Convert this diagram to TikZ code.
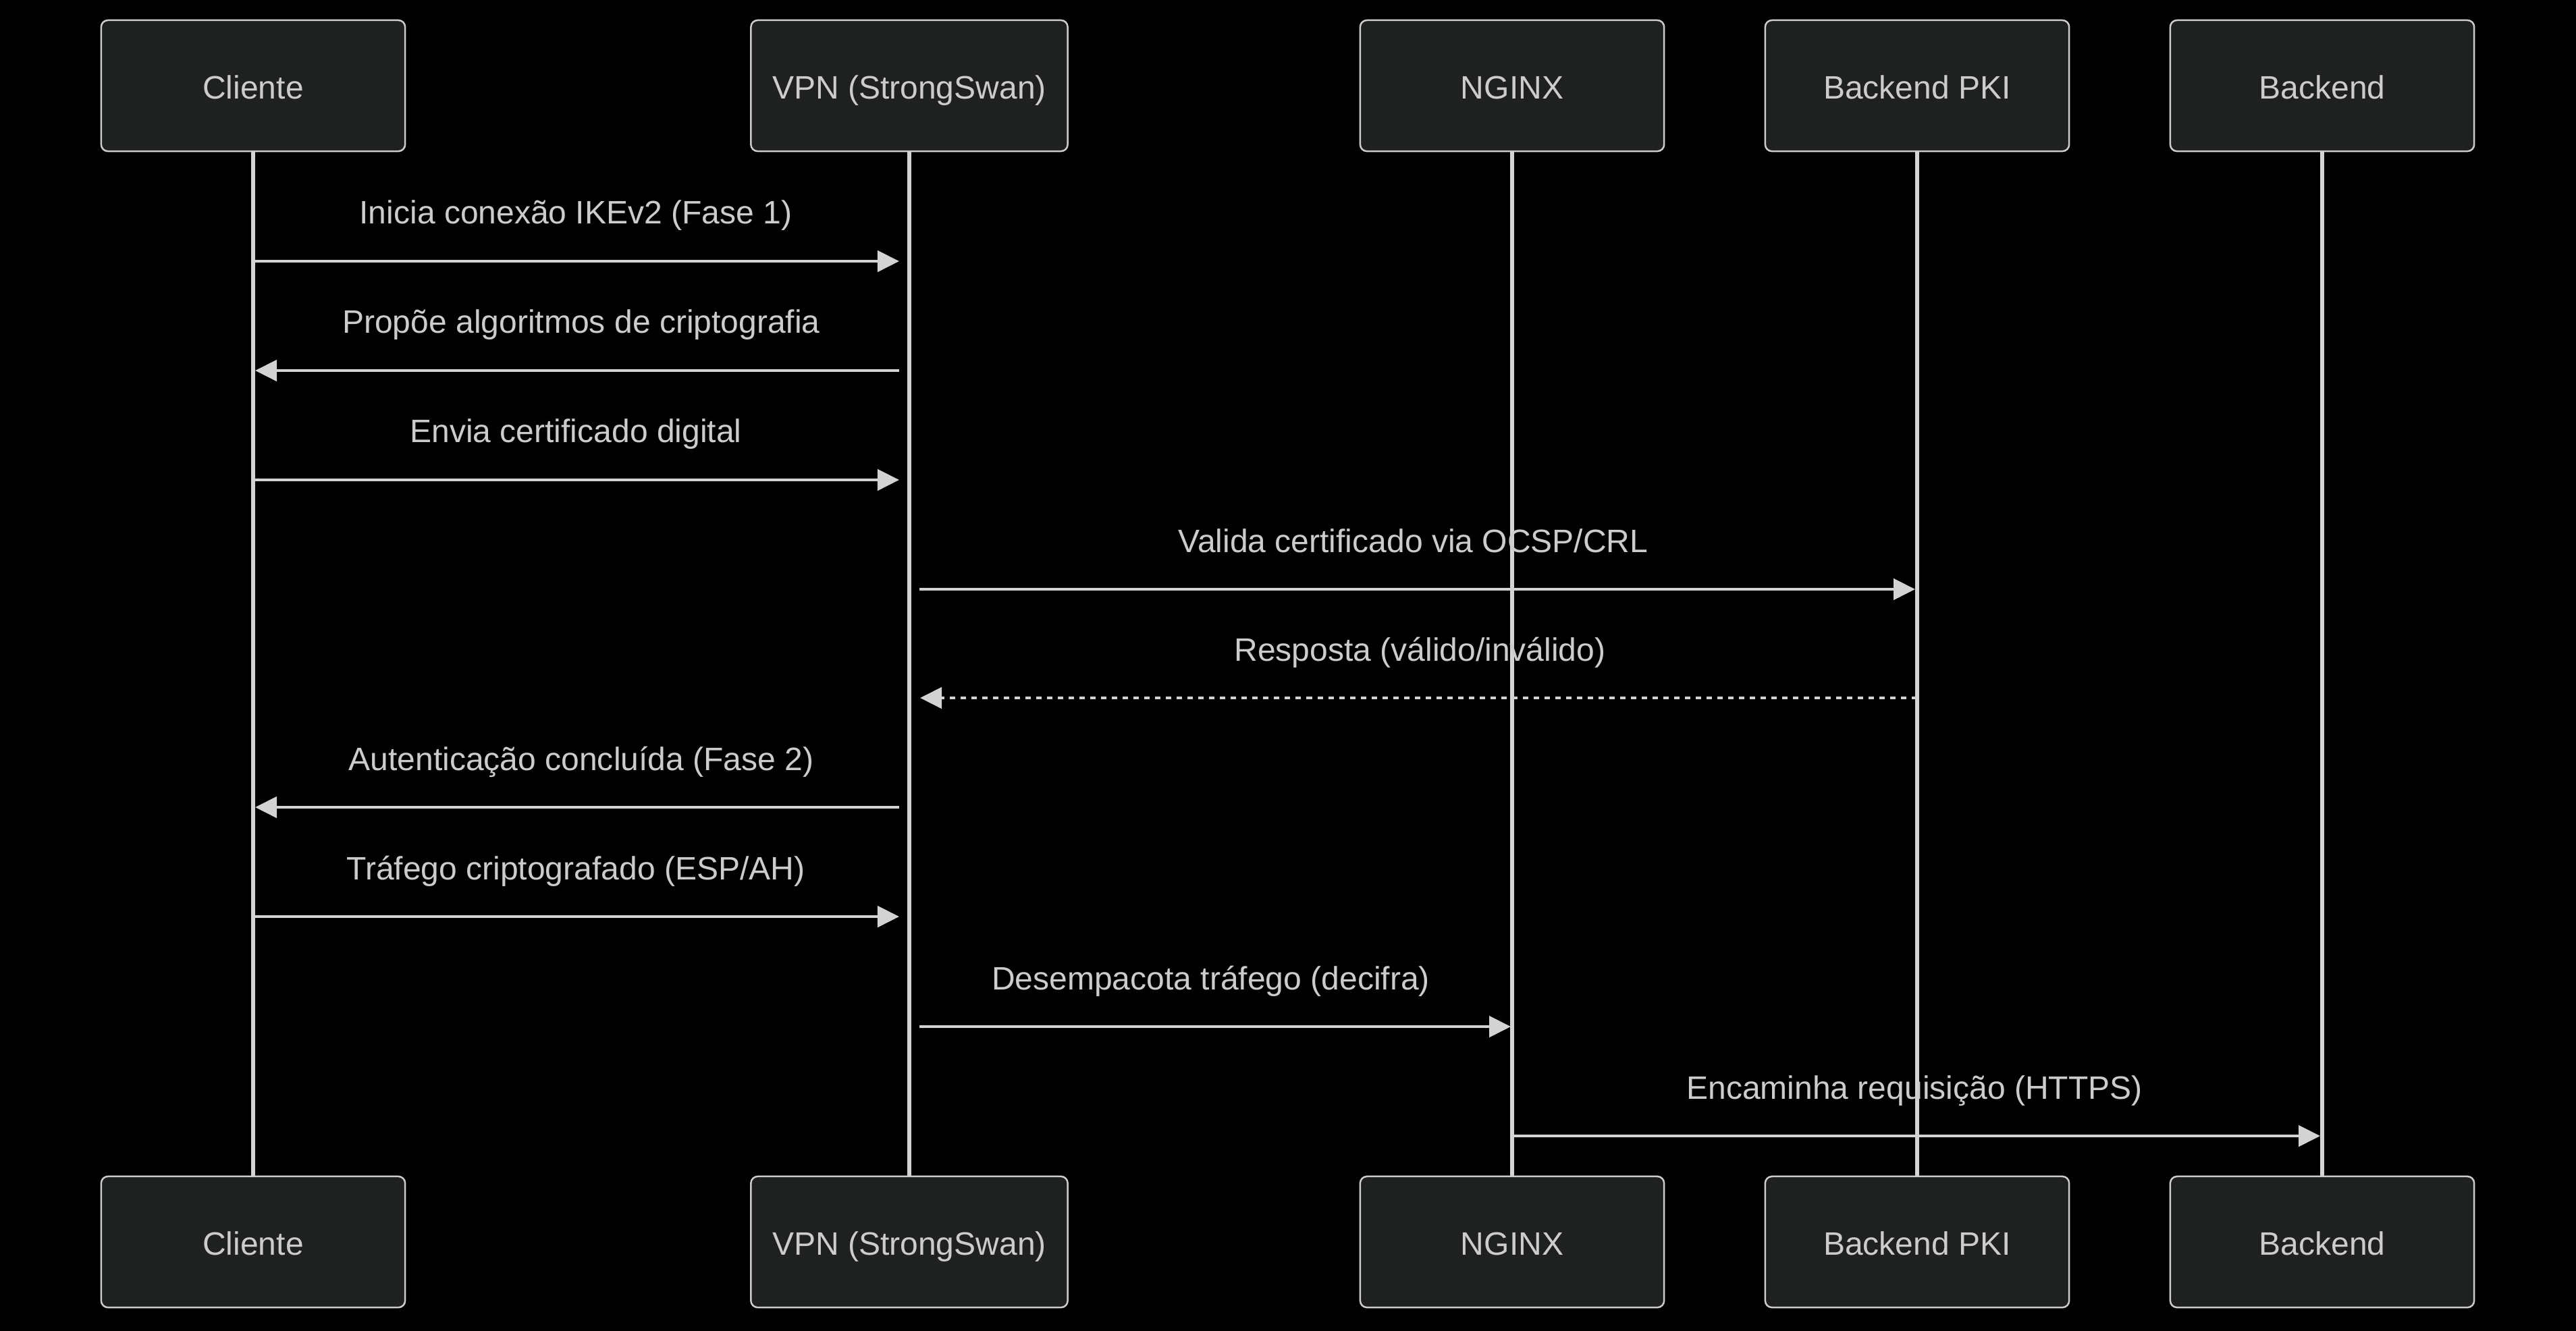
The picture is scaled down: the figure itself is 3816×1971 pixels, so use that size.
\documentclass[tikz,border=0pt]{standalone}
\usepackage{fontspec}
\setmainfont{Liberation Sans}
\usetikzlibrary{arrows.meta}
\definecolor{actfill}{HTML}{1F2020}
\definecolor{actline}{HTML}{CCCCCC}
\definecolor{txt}{HTML}{CCCCCC}
\definecolor{ln}{HTML}{D3D3D3}
\begin{document}
\begin{tikzpicture}[x=0.01cm,y=-0.01cm,
  actor/.style={draw=actline, fill=actfill, line width=0.025cm, rounded corners=0.1cm,
    minimum height=1.94cm, minimum width=4.5cm, text=txt, inner sep=0pt,
    text height=0.38cm, text depth=0pt, font=\fontsize{13.66}{16}\selectfont},
  life/.style={draw=ln, line width=0.06cm},
  msg/.style={draw=ln, line width=0.047cm, -{Triangle[length=0.32cm,width=0.31cm]}},
  dmsg/.style={msg, dash pattern=on 0.08cm off 0.08cm},
  lbl/.style={text=txt, anchor=base, yshift=0.55cm, inner sep=0pt,
    font=\fontsize{13.66}{16}\selectfont}
]
\useasboundingbox (0,0) rectangle (3816,1971);
\fill[black] (-20,-20) rectangle (3836,1991);

% top actors
\node[actor] (c1) at (375,127) {Cliente};
\node[actor, minimum width=4.69cm] (v1) at (1347,127) {VPN (StrongSwan)};
\node[actor] (n1) at (2240,127) {NGINX};
\node[actor] (p1) at (2840,127) {Backend PKI};
\node[actor] (b1) at (3440,127) {Backend};
% bottom actors
\node[actor] (c2) at (375,1840) {Cliente};
\node[actor, minimum width=4.69cm] (v2) at (1347,1840) {VPN (StrongSwan)};
\node[actor] (n2) at (2240,1840) {NGINX};
\node[actor] (p2) at (2840,1840) {Backend PKI};
\node[actor] (b2) at (3440,1840) {Backend};

% lifelines
\draw[life] (c1.south) -- (c2.north);
\draw[life] (v1.south) -- (v2.north);
\draw[life] (n1.south) -- (n2.north);
\draw[life] (p1.south) -- (p2.north);
\draw[life] (b1.south) -- (b2.north);

% messages
\draw[msg, shorten >=0.15cm] (c1 |- 0,387) -- (v1 |- 0,387)
  node[lbl, midway, xshift=-0.08cm] {Inicia conexão IKEv2 (Fase 1)};
\draw[msg, shorten <=0.15cm, shorten >=0.03cm] (v1 |- 0,549) -- (c1 |- 0,549)
  node[lbl, midway] {Propõe algoritmos de criptografia};
\draw[msg, shorten >=0.15cm] (c1 |- 0,711) -- (v1 |- 0,711)
  node[lbl, midway, xshift=-0.08cm] {Envia certificado digital};
\draw[msg, shorten <=0.15cm, shorten >=0.03cm] (v1 |- 0,873) -- (p1 |- 0,873)
  node[lbl, midway] {Valida certificado via OCSP/CRL};
\draw[dmsg, shorten >=0.16cm] (p1 |- 0,1034) -- (v1 |- 0,1034)
  node[lbl, midway, xshift=0.1cm] {Resposta (válido/inválido)};
\draw[msg, shorten <=0.15cm, shorten >=0.03cm] (v1 |- 0,1196) -- (c1 |- 0,1196)
  node[lbl, midway] {Autenticação concluída (Fase 2)};
\draw[msg, shorten >=0.15cm] (c1 |- 0,1358) -- (v1 |- 0,1358)
  node[lbl, midway, xshift=-0.08cm] {Tráfego criptografado (ESP/AH)};
\draw[msg, shorten <=0.15cm, shorten >=0.02cm] (v1 |- 0,1521) -- (n1 |- 0,1521)
  node[lbl, midway] {Desempacota tráfego (decifra)};
\draw[msg, shorten >=0.03cm] (n1 |- 0,1683) -- (b1 |- 0,1683)
  node[lbl, midway, xshift=-0.04cm] {Encaminha requisição (HTTPS)};
\end{tikzpicture}
\end{document}
